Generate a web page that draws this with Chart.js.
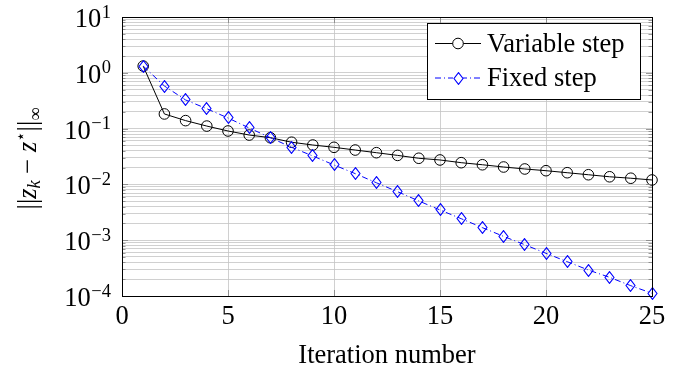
<!DOCTYPE html>
<html><head><meta charset="utf-8">
<script src="https://cdn.jsdelivr.net/npm/chart.js@4/dist/chart.umd.min.js"></script>
<style>html,body{margin:0;padding:0;background:#fff}#wrap{width:693px;height:366px;position:relative}</style>
</head><body><div id="wrap"><canvas id="c" width="693" height="366"></canvas></div>
<script>
// ---- data ----
const iterations = [1,2,3,4,5,6,7,8,9,10,11,12,13,14,15,16,17,18,19,20,21,22,23,24,25];
const variableStep = [1.32,0.183,0.139,0.111,0.0906,0.0767,0.0687,0.057,0.0508,0.0462,0.0413,0.037,0.0331,0.0294,0.0274,0.0245,0.0225,0.0205,0.0189,0.0176,0.0162,0.0149,0.0137,0.0129,0.012];
const fixedStep = [1.32,0.58,0.326,0.227,0.155,0.1026,0.0687,0.0462,0.0323,0.0223,0.0156,0.0107,0.0074,0.00505,0.00348,0.00243,0.00168,0.00117,0.00083,0.000582,0.000412,0.000292,0.000216,0.000153,0.000112];
const seriesNames = ['Variable step','Fixed step'];
const xTickValues = [0,5,10,15,20,25];
const yTickExponents = [1,0,-1,-2,-3,-4];
const xTitle = 'Iteration number';

const SERIF = '"Liberation Serif", "DejaVu Serif", serif';
const FS = 26.5, FSS = 18.5;
const GRID = '#c4c4c4', TICK = '#808080';

// diamond marker
function makeDiamond(){
  const w = 11, h = 13;
  const cv = document.createElement('canvas'); cv.width = w; cv.height = h;
  const g = cv.getContext('2d');
  g.strokeStyle = '#0000ff'; g.lineWidth = 1.1;
  g.beginPath(); g.moveTo(w/2,0.6); g.lineTo(w-1,h/2); g.lineTo(w/2,h-0.6); g.lineTo(1,h/2); g.closePath(); g.stroke();
  return cv;
}
const diamond = makeDiamond();

const minY = Math.pow(10, Math.min(...yTickExponents));
const maxY = Math.pow(10, Math.max(...yTickExponents));

const crisp = {
  id: 'crisp',
  beforeDatasetsDraw(chart){ chart.ctx.imageSmoothingEnabled = false; },
  afterDatasetsDraw(chart){ chart.ctx.imageSmoothingEnabled = true; }
};

const decor = {
  id: 'decor',
  afterDraw(chart){
    const ctx = chart.ctx, a = chart.chartArea;
    const xs = chart.scales.x, ys = chart.scales.y;
    ctx.save();
    // tick marks
    ctx.strokeStyle = TICK; ctx.lineWidth = 0.8;
    ys.ticks.forEach(t => {
      const y = Math.round(ys.getPixelForValue(t.value)) + 0.5;
      const major = Math.abs(Math.log10(t.value) - Math.round(Math.log10(t.value))) < 1e-9;
      const len = major ? 6 : 3.5;
      ctx.beginPath(); ctx.moveTo(a.left, y); ctx.lineTo(a.left + len, y);
      ctx.moveTo(a.right, y); ctx.lineTo(a.right - len, y); ctx.stroke();
    });
    xTickValues.forEach(v => {
      const x = Math.round(xs.getPixelForValue(v)) + 0.5;
      ctx.beginPath(); ctx.moveTo(x, a.bottom); ctx.lineTo(x, a.bottom - 6);
      ctx.moveTo(x, a.top); ctx.lineTo(x, a.top + 6); ctx.stroke();
    });
    // frame
    ctx.strokeStyle = '#000'; ctx.lineWidth = 1;
    ctx.strokeRect(Math.round(a.left)+0.5, Math.round(a.top)+0.5, Math.round(a.right-a.left), Math.round(a.bottom-a.top));
    // y tick labels
    ctx.fillStyle = '#000';
    yTickExponents.forEach(e => {
      const y = ys.getPixelForValue(Math.pow(10, e));
      const expStr = e < 0 ? '\u2212' + (-e) : String(e);
      ctx.font = FSS + 'px ' + SERIF; ctx.textAlign = 'right'; ctx.textBaseline = 'alphabetic';
      const right = 111;
      const ew = ctx.measureText(expStr).width;
      ctx.fillText(expStr, right, y + 0.5);
      ctx.font = FS + 'px ' + SERIF;
      ctx.fillText('10', right - ew - 0.5, y + 10);
    });
    // x tick labels
    ctx.font = FS + 'px ' + SERIF; ctx.textAlign = 'center'; ctx.textBaseline = 'alphabetic';
    xTickValues.forEach(v => ctx.fillText(String(v), xs.getPixelForValue(v), 324));
    // x title
    ctx.fillText(xTitle, (a.left + a.right)/2, 363);
    // y title
    const parts = [
      {t:'||', f: FS+'px '+SERIF, dy:0},
      {t:'z', f:'italic '+FS+'px '+SERIF, dy:0},
      {t:'k', f:'italic '+FSS+'px '+SERIF, dy:4},
      {t:' \u2212 ', f: FS+'px '+SERIF, dy:0},
      {t:'z', f:'italic '+FS+'px '+SERIF, dy:0},
      {t:'\u22C6', f: (FSS-2)+'px "DejaVu Sans", sans-serif', dy:-10},
      {t:'||', f: FS+'px '+SERIF, dy:0},
      {t:'\u221E', f: FSS+'px '+SERIF, dy:5}
    ];
    let total = 0;
    parts.forEach(p => { ctx.font = p.f; p.w = ctx.measureText(p.t).width; total += p.w; });
    ctx.translate(36, 158.5); ctx.rotate(-Math.PI/2);
    ctx.textAlign = 'left';
    let cx = -total/2;
    parts.forEach(p => { ctx.font = p.f; ctx.fillText(p.t, cx, p.dy); cx += p.w; });
    ctx.setTransform(1,0,0,1,0,0);
    // legend
    const lx = 427, ly = 23, lw = 213, lh = 76;
    ctx.fillStyle = '#fff'; ctx.fillRect(lx, ly, lw, lh);
    ctx.strokeStyle = '#000'; ctx.lineWidth = 1; ctx.strokeRect(lx+0.5, ly+0.5, lw, lh);
    const rows = [43.5, 78];
    const base = [52, 86];
    chart.data.datasets.forEach((ds, i) => {
      const y = rows[i];
      ctx.strokeStyle = ds.borderColor; ctx.lineWidth = 1;
      ctx.setLineDash(ds.borderDash || []);
      ctx.beginPath(); ctx.moveTo(435, y); ctx.lineTo(481, y); ctx.stroke();
      ctx.setLineDash([]);
      if (i === 0) {
        ctx.fillStyle = '#fff';
        ctx.beginPath(); ctx.arc(458, y, 5.3, 0, Math.PI*2); ctx.fill(); ctx.stroke();
      } else {
        ctx.fillStyle = '#fff'; ctx.fillRect(453, y-6, 10, 12);
        ctx.drawImage(diamond, Math.round(458 - diamond.width/2), Math.round(y - diamond.height/2));
      }
      ctx.fillStyle = '#000'; ctx.font = FS + 'px ' + SERIF; ctx.textAlign = 'left';
      ctx.fillText(ds.label, 487, base[i]);
    });
    ctx.restore();
  }
};

new Chart(document.getElementById('c'), {
  type: 'line',
  data: {
    labels: iterations,
    datasets: [
      { label: seriesNames[0], data: iterations.map((x,i)=>({x, y: variableStep[i]})),
        borderColor: '#000', borderWidth: 1, pointStyle: 'circle', pointRadius: 5.3,
        pointBorderColor: '#000', pointBackgroundColor: 'rgba(0,0,0,0)', pointBorderWidth: 1,
        tension: 0, clip: false, order: 2 },
      { label: seriesNames[1], data: iterations.map((x,i)=>({x, y: fixedStep[i]})),
        borderColor: '#0000ff', borderWidth: 1, borderDash: [6,3,1,3], pointStyle: diamond, pointRadius: 6,
        tension: 0, clip: false, order: 1 }
    ]
  },
  options: {
    responsive: false, animation: false, devicePixelRatio: 1,
    layout: { padding: { left: 0, right: 41, top: 17, bottom: 0 } },
    plugins: { legend: { display: false }, tooltip: { enabled: false } },
    scales: {
      x: {
        type: 'linear', min: 0, max: 25,
        afterBuildTicks: s => { s.ticks = xTickValues.map(v => ({value: v})); },
        ticks: { display: false },
        grid: { color: GRID, lineWidth: 0.8, drawTicks: false },
        border: { display: false },
        afterFit: s => { s.height = 70; }
      },
      y: {
        type: 'logarithmic', min: minY, max: maxY,
        afterBuildTicks: s => {
          const t = [];
          const lo = Math.min(...yTickExponents), hi = Math.max(...yTickExponents);
          for (let e = lo; e <= hi; e++) {
            for (let k = 1; k <= 9; k++) {
              if (e === hi && k > 1) break;
              t.push({value: parseFloat((k * Math.pow(10, e)).toPrecision(6))});
            }
          }
          s.ticks = t;
        },
        ticks: { display: false },
        grid: { color: GRID, lineWidth: 0.8, drawTicks: false },
        border: { display: false },
        afterFit: s => { s.width = 122; }
      }
    }
  },
  plugins: [crisp, decor]
});
</script>
</body></html>
